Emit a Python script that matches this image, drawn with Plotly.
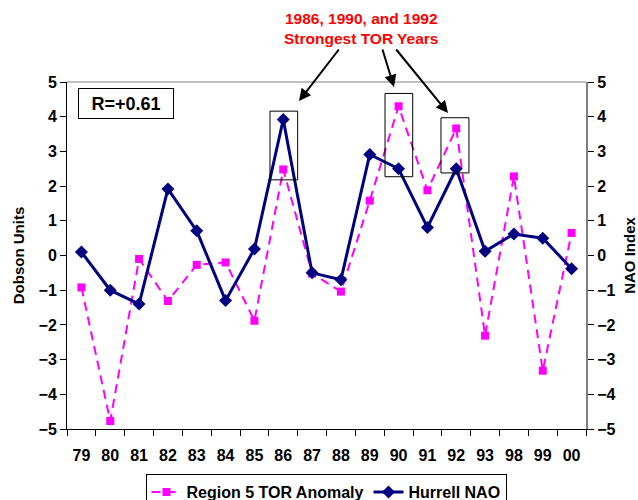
import plotly.graph_objects as go

years = ["79", "80", "81", "82", "83", "84", "85", "86", "87", "88", "89",
         "90", "91", "92", "93", "98", "99", "00"]
tor_anomaly = [-0.92, -4.77, -0.1, -1.31, -0.27, -0.2, -1.88, 2.48, -0.52, -1.04,
               1.58, 4.3, 1.88, 3.66, -2.31, 2.28, -3.32, 0.65]
hurrell_nao = [0.1, -1.0, -1.4, 1.92, 0.71, -1.3, 0.19, 3.92, -0.5, -0.7,
               2.91, 2.5, 0.81, 2.5, 0.12, 0.62, 0.5, -0.38]
y_ticks = [-5, -4, -3, -2, -1, 0, 1, 2, 3, 4, 5]

FONT = "Arial, Liberation Sans, sans-serif"
L, R, T, B = 67, 52, 82, 71
W, H = 638, 500
PW, PH = W - L - R, H - T - B


def px(xp):
    return (xp - L) / PW


def py(yp):
    return (H - B - yp) / PH


fig = go.Figure()
fig.add_trace(go.Scatter(
    x=years, y=tor_anomaly, name="Region 5 TOR Anomaly", mode="lines+markers",
    line=dict(color="#FF00FF", width=2, dash="9px,6px"),
    marker=dict(symbol="square", size=8, color="#FF00FF"),
    yaxis="y"))
fig.add_trace(go.Scatter(
    x=years, y=hurrell_nao, name="Hurrell NAO", mode="lines+markers",
    line=dict(color="#000080", width=3),
    marker=dict(symbol="diamond", size=10, color="#000080"),
    yaxis="y2"))

axis_font = dict(family=FONT, size=16, color="black", weight="bold")

fig.update_layout(
    width=W, height=H,
    margin=dict(l=L, r=R, t=T, b=B, autoexpand=False),
    paper_bgcolor="white", plot_bgcolor="white",
    font=dict(family=FONT, color="black"),
    xaxis=dict(type="category", showgrid=False, zeroline=False,
               showline=True, linecolor="black", linewidth=1,
               ticks="outside", ticklen=6, tickcolor="black", tickson="boundaries",
               tickfont=axis_font, ticklabelstandoff=12,
               range=[-0.5, len(years) - 0.5], automargin=False),
    yaxis=dict(range=[-5, 5], tickvals=y_ticks, showgrid=False, zeroline=False,
               showline=True, linecolor="black", linewidth=1,
               ticks="outside", ticklen=6, tickcolor="black",
               tickfont=axis_font, automargin=False,
               title=dict(text="Dobson Units", font=dict(family=FONT, size=15, weight="bold"),
                          standoff=10)),
    yaxis2=dict(range=[-5, 5], tickvals=y_ticks, overlaying="y", side="right",
                showgrid=False, zeroline=False,
                showline=True, linecolor="#808080", linewidth=2,
                ticks="outside", ticklen=6, tickcolor="black",
                tickfont=axis_font, automargin=False,
                title=dict(text="NAO Index", font=dict(family=FONT, size=15, weight="bold"),
                           standoff=10)),
    showlegend=True,
    legend=dict(orientation="h", x=px(326), xanchor="center", y=py(474), yanchor="top",
                bordercolor="black", borderwidth=1, bgcolor="white",
                font=dict(family=FONT, size=16, weight="bold"),
                itemwidth=30, tracegroupgap=0),
)

shapes = [
    dict(type="line", xref="paper", yref="paper", x0=0, x1=1, y0=1, y1=1,
         line=dict(color="#808080", width=1)),
    dict(type="rect", xref="x", yref="y", x0=6.54, x1=7.50, y0=2.18, y1=4.16,
         line=dict(color="black", width=1)),
    dict(type="rect", xref="x", yref="y", x0=10.53, x1=11.49, y0=2.27, y1=4.67,
         line=dict(color="black", width=1)),
    dict(type="rect", xref="x", yref="y", x0=12.47, x1=13.44, y0=2.38, y1=3.97,
         line=dict(color="black", width=1)),
]
fig.update_layout(shapes=shapes)

annotations = [
    dict(text="1986, 1990, and 1992<br>Strongest TOR Years", xref="paper", yref="paper",
         x=px(361), y=py(29), showarrow=False, xanchor="center", yanchor="middle",
         font=dict(family=FONT, size=15.5, color="#FF0000", weight="bold")),
    dict(text="<b>R=+0.61</b>", xref="paper", yref="paper", x=px(126), y=py(103.5),
         showarrow=False, xanchor="center", yanchor="middle", width=92, height=27,
         bordercolor="black", borderwidth=1, bgcolor="white",
         font=dict(family=FONT, size=18, color="black")),
]
for head, tail in [((299, 101), (340, 48)), ((394, 87), (382, 48)), ((448, 113), (395, 48))]:
    annotations.append(dict(
        text="", xref="paper", yref="paper", x=px(head[0]), y=py(head[1]),
        ax=tail[0] - head[0], ay=tail[1] - head[1], showarrow=True,
        arrowhead=2, arrowsize=1.2, arrowwidth=2, arrowcolor="black"))
fig.update_layout(annotations=annotations)

fig.write_html("out.html", config={"displayModeBar": False},
               post_script="document.body.style.margin='0';document.body.style.overflow='hidden';")
